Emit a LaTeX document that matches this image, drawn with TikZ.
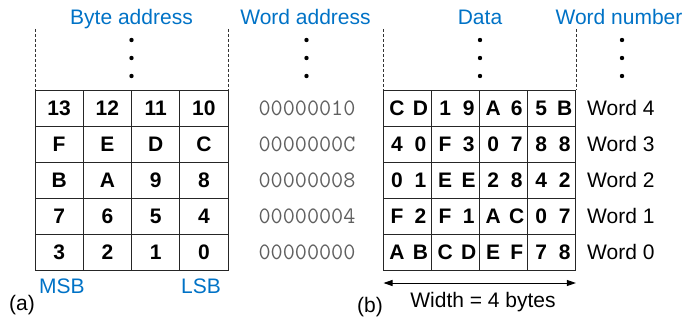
\documentclass[tikz,border=0pt]{standalone}
\usepackage{fontspec}
\setmainfont{Liberation Sans}
\usetikzlibrary{arrows.meta}
\definecolor{hdblue}{RGB}{0,114,198}
\definecolor{addrgray}{RGB}{95,95,95}
\begin{document}
\begin{tikzpicture}[x=1pt,y=-1pt,
  head/.style={text=hdblue, font=\fontsize{21}{25}\selectfont, anchor=base, inner sep=0pt},
  plain/.style={font=\fontsize{21}{25}\selectfont, anchor=base, inner sep=0pt},
  cellnum/.style={font=\bfseries\fontsize{21}{25}\selectfont, anchor=base, inner sep=0pt},
  addr/.style={text=addrgray, font=\ttfamily\fontsize{23.5}{26}\selectfont, anchor=base, inner sep=0pt},
  gridline/.style={line width=0.9pt, black!85},
  sideline/.style={line width=0.7pt, black!80, dash pattern=on 3pt off 2pt},
  vdot/.style={circle, fill=black, inner sep=0pt, minimum size=4.4pt}
]
\useasboundingbox (0,0) rectangle (688,321);

% ---------- (a) byte-addressed memory ----------
\def\ax{35}\def\aw{48.25}\def\top{90}\def\rh{36}
\draw[gridline] (\ax,\top) rectangle (\ax+4*\aw,\top+5*\rh);
\foreach \i in {1,2,3} \draw[gridline] (\ax+\i*\aw,\top) -- (\ax+\i*\aw,\top+5*\rh);
\foreach \j in {1,2,3,4} \draw[gridline] (\ax,\top+\j*\rh) -- (\ax+4*\aw,\top+\j*\rh);
\draw[sideline] (\ax,29) -- (\ax,\top);
\draw[sideline] (\ax+4*\aw,29) -- (\ax+4*\aw,\top);

\foreach \row [count=\r from 0] in {{13,12,11,10},{F,E,D,C},{B,A,9,8},{7,6,5,4},{3,2,1,0}} {
  \foreach \v [count=\c from 0] in \row
    \node[cellnum] (b\r\c) at (\ax+\c*\aw+0.5*\aw, \top+\r*\rh+0.5*\rh+7.5) {\v};
}

\node[head] (byteaddr) at (131.5,25) {Byte address};
\foreach \k/\yy in {1/40,2/58,3/76} \node[vdot] (adot\k) at (131.5,\yy) {};
\node[head] (msb) at (62,293) {MSB};
\node[head] (lsb) at (201,293) {LSB};
\node[plain] (labela) at (22,310) {(a)};

% ---------- word addresses ----------
\node[head] (wordaddr) at (305.5,25) {Word address};
\foreach \k/\yy in {1/40,2/58,3/76} \node[vdot] (wdot\k) at (306.5,\yy) {};
\foreach \v [count=\r from 0] in {00000010,0000000C,00000008,00000004,00000000}
  \node[addr] (wa\r) at (307, \top+\r*\rh+0.5*\rh+7) {\v};

% ---------- (b) word-organized data ----------
\def\bx{383.5}\def\bw{48.1}
\draw[gridline] (\bx,\top) rectangle (\bx+4*\bw,\top+5*\rh);
\foreach \i in {1,2,3} \draw[gridline] (\bx+\i*\bw,\top) -- (\bx+\i*\bw,\top+5*\rh);
\foreach \j in {1,2,3,4} \draw[gridline] (\bx,\top+\j*\rh) -- (\bx+4*\bw,\top+\j*\rh);
\draw[sideline] (\bx,29) -- (\bx,\top);
\draw[sideline] (\bx+4*\bw,29) -- (\bx+4*\bw,\top);

\foreach \row [count=\r from 0] in {{C/D,1/9,A/6,5/B},{4/0,F/3,0/7,8/8},{0/1,E/E,2/8,4/2},{F/2,F/1,A/C,0/7},{A/B,C/D,E/F,7/8}} {
  \foreach \hi/\lo [count=\c from 0] in \row {
    \node[cellnum] (dh\r\c) at (\bx+\c*\bw+13.5, \top+\r*\rh+0.5*\rh+7.5) {\hi};
    \node[cellnum] (dl\r\c) at (\bx+\c*\bw+37, \top+\r*\rh+0.5*\rh+7.5) {\lo};
  }
}

\node[head] (data) at (480,25) {Data};
\foreach \k/\yy in {1/40,2/58,3/76} \node[vdot] (ddot\k) at (480,\yy) {};
\node[head] (wordnum) at (619,25) {Word number};
\foreach \k/\yy in {1/40,2/58,3/76} \node[vdot] (ndot\k) at (622,\yy) {};
\foreach \v [count=\r from 0] in {4,3,2,1,0}
  \node[plain, anchor=base west] (wn\r) at (587, \top+\r*\rh+0.5*\rh+7.5) {Word \v};

% width arrow
\coordinate (wl) at (\bx,283);
\coordinate (wr) at (\bx+4*\bw,283);
\draw[line width=0.9pt, {Triangle[length=9pt,width=6pt]}-{Triangle[length=9pt,width=6pt]}] (wl) -- (wr);
\node[plain] (width) at (483,307.5) {Width = 4 bytes};
\node[plain] (labelb) at (370,312) {(b)};
\end{tikzpicture}
\end{document}
